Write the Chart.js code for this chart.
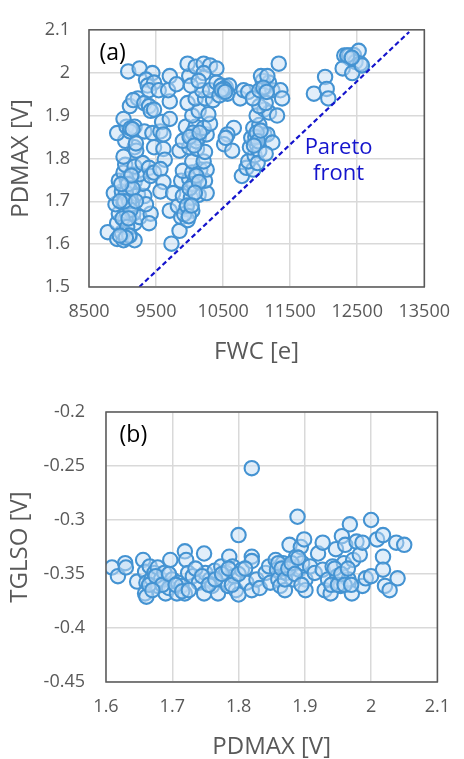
<!DOCTYPE html>
<html>
<head>
<meta charset="utf-8">
<script src="https://cdn.jsdelivr.net/npm/chart.js@4.4.0/dist/chart.umd.min.js"></script>
<style>
html, body { margin: 0; padding: 0; background: #fff; overflow: hidden; }
#chartA { position: absolute; left: 0; top: 0; }
#chartB { position: absolute; left: 0; top: 375px; }
</style>
</head>
<body>
<canvas id="chartA" width="464" height="372"></canvas>
<canvas id="chartB" width="464" height="390"></canvas>
<script>
// (a) FWC vs PDMAX
let fwc = [
    8780, 8920, 9015, 9110, 9180, 8990, 8920, 9040, 9180, 8945, 9060, 9160, 8895, 9015, 9135, 9255,
    8870, 8990, 9110, 9230, 9325, 8945, 9060, 9180, 9300, 9015, 9135, 9255, 9040, 9180, 9300, 9395,
    9420, 9395, 9350, 9420, 9470, 9015, 9180, 9205, 9040, 8920, 9060, 9180, 9110, 9015, 9110, 9230,
    9160, 9325, 9395, 9420, 9470, 9085, 9255, 9445, 9350, 9375, 9470, 9395, 9540, 9325, 9445, 9565,
    9590, 9610, 9470, 9610, 9705, 9630, 9565, 9610, 9565,
    9050, 9100, 9080, 9120, 9000, 9150, 9070, 9030, 9130, 9090, 8960, 9200, 8980, 9100, 9050, 8960,
    9120, 9150, 9200,
    9730, 9850, 9705, 9875, 9945, 10040, 9825, 9970, 9755, 9900, 10020, 10135, 10255, 9875, 9995, 10110,
    10230, 9900, 10040, 10160, 10255, 10040, 10210, 9850, 9995, 10110, 10230, 9900, 10020, 10135, 10255, 9945,
    10090, 10210, 10305, 10040, 10135, 10280, 9970, 10090, 10230, 10350, 10185, 10305, 9705, 9680, 9705, 9805,
    9995, 10020, 9970, 10090, 10210, 10305, 10400, 10210, 10135,
    10060, 10100, 10000, 10140, 10080, 10050, 10100, 10000, 10150, 10070, 9920, 9960, 9990, 10030,
    10400, 10470, 10540, 10590, 10490, 10565, 10445, 10515, 10755, 10805, 10875, 10660, 10565, 10515, 10635, 10540,
    10480, 10530,
    10780, 10850, 10950, 10875, 10970, 10900, 11000, 11040, 10920, 11040, 11115, 10950, 11040, 11160, 11235, 11015,
    11135, 11000, 11115, 11185, 11305, 11040, 11135, 10945, 11040, 11135, 11235, 11090, 11185, 11065, 11160, 11355,
    11380, 11330,
    10980, 11000, 11020, 10960, 11060, 11100, 11150,
    12021, 11854, 12045, 12069,
    12307, 12379, 12450, 12522, 12402, 12474, 12546, 12283, 12426, 12570, 12350, 12420
];
let pdmaxA = [
    1.628, 1.612, 1.609, 1.620, 1.609, 1.627, 1.649, 1.656, 1.649, 1.671, 1.675, 1.671, 1.693, 1.697, 1.693, 1.663,
    1.719, 1.723, 1.726, 1.715, 1.712, 1.748, 1.752, 1.745, 1.741, 1.767, 1.763, 1.763, 1.785, 1.781, 1.789, 1.778,
    1.671, 1.649, 1.693, 1.759, 1.767, 1.804, 1.826, 1.818, 1.841, 1.859, 1.874, 1.874, 1.863, 1.892, 1.922, 1.940,
    1.936, 1.929, 1.922, 1.911, 1.914, 2.003, 2.010, 1.999, 1.984, 1.970, 1.977, 1.959, 1.959, 1.863, 1.859, 1.863,
    1.885, 1.856, 1.826, 1.822, 1.892, 1.797, 1.775, 1.745, 1.723,
    1.720, 1.700, 1.740, 1.680, 1.660, 1.730, 1.640, 1.700, 1.760, 1.660, 1.700, 1.700, 1.740, 1.620, 1.615, 1.620,
    1.870, 1.868, 1.835,
    1.601, 1.631, 1.678, 1.663, 1.682, 1.678, 1.689, 1.656, 1.719, 1.712, 1.708, 1.715, 1.719, 1.748, 1.752, 1.756,
    1.748, 1.771, 1.767, 1.774, 1.774, 1.793, 1.793, 1.818, 1.826, 1.822, 1.815, 1.841, 1.852, 1.848, 1.856, 1.874,
    1.874, 1.871, 1.881, 1.900, 1.911, 1.903, 1.929, 1.940, 1.940, 1.936, 1.959, 1.959, 1.933, 1.959, 1.992, 1.973,
    1.992, 1.970, 2.021, 2.014, 2.021, 2.017, 2.010, 1.999, 1.981,
    1.740, 1.760, 1.730, 1.745, 1.720, 1.860, 1.840, 1.850, 1.860, 1.830, 1.670, 1.690, 1.665, 1.690,
    1.977, 1.970, 1.966, 1.970, 1.955, 1.951, 1.947, 1.962, 1.940, 1.959, 1.955, 1.871, 1.856, 1.833, 1.818, 1.848,
    1.960, 1.955,
    1.759, 1.778, 1.774, 1.793, 1.807, 1.826, 1.833, 1.818, 1.848, 1.852, 1.856, 1.871, 1.878, 1.856, 1.837, 1.789,
    1.811, 1.900, 1.914, 1.907, 1.900, 1.922, 1.929, 1.940, 1.959, 1.966, 1.959, 1.981, 1.977, 1.992, 1.992, 1.959,
    1.940, 2.021,
    1.850, 1.860, 1.840, 1.830, 1.865, 1.965, 1.955,
    1.990, 1.951, 1.962, 1.940,
    2.040, 2.040, 2.041, 2.051, 2.032, 2.025, 2.021, 2.010, 1.999, 2.017, 2.040, 2.035
];
let frontX = [9250, 13275];
let frontY = [1.5, 2.095];
let xTicksA = [8500, 9500, 10500, 11500, 12500, 13500];
let yTicksA = [1.5, 1.6, 1.7, 1.8, 1.9, 2, 2.1];

// (b) PDMAX vs TGLSO
let pdmaxB = [
    1.609, 1.618, 1.629, 1.630, 1.647, 1.656, 1.659, 1.661, 1.659, 1.661, 1.666, 1.669, 1.673, 1.678, 1.678, 1.683,
    1.690, 1.688, 1.697, 1.700, 1.695, 1.707, 1.709, 1.714, 1.719, 1.721, 1.719, 1.724, 1.731, 1.740, 1.748, 1.748,
    1.750, 1.757, 1.760, 1.764, 1.769, 1.774, 1.776, 1.781, 1.786, 1.784, 1.791, 1.793, 1.796, 1.800, 1.800, 1.805,
    1.812, 1.820, 1.820, 1.820, 1.820, 1.827, 1.832, 1.841, 1.846, 1.848, 1.856, 1.858, 1.860, 1.863, 1.867, 1.870,
    1.872, 1.877, 1.879, 1.882, 1.887, 1.889, 1.891, 1.894, 1.896, 1.899, 1.901, 1.901, 1.908, 1.915, 1.920, 1.927,
    1.927, 1.930, 1.935, 1.939, 1.942, 1.947, 1.949, 1.956, 1.954, 1.959, 1.961, 1.966, 1.968, 1.971, 1.973, 1.978,
    1.983, 1.987, 1.987, 1.992, 2.000, 2.000, 2.009, 2.018, 2.018, 2.018, 2.021, 2.028, 2.038, 2.040, 2.050,
    1.665, 1.675, 1.685, 1.670, 1.695, 1.705, 1.715, 1.725, 1.735, 1.745, 1.755, 1.765, 1.775, 1.785, 1.790, 1.800,
    1.810, 1.860, 1.865, 1.870, 1.875, 1.880, 1.885, 1.890, 1.895, 1.940, 1.945, 1.950, 1.955, 1.960, 1.965, 1.970
];
let tglso = [
    -0.344, -0.352, -0.340, -0.344, -0.357, -0.337, -0.348, -0.358, -0.368, -0.371, -0.343, -0.354, -0.349, -0.344, -0.361, -0.355,
    -0.368, -0.349, -0.337, -0.355, -0.363, -0.368, -0.358, -0.361, -0.329, -0.337, -0.368, -0.349, -0.352, -0.358, -0.331, -0.368,
    -0.349, -0.355, -0.361, -0.347, -0.368, -0.343, -0.355, -0.349, -0.334, -0.361, -0.343, -0.352, -0.365, -0.369, -0.314, -0.346,
    -0.358, -0.252, -0.334, -0.338, -0.365, -0.355, -0.363, -0.349, -0.343, -0.358, -0.337, -0.346, -0.355, -0.361, -0.340, -0.365,
    -0.349, -0.323, -0.343, -0.355, -0.334, -0.297, -0.346, -0.325, -0.340, -0.318, -0.355, -0.365, -0.343, -0.349, -0.331, -0.321,
    -0.346, -0.365, -0.355, -0.368, -0.343, -0.327, -0.352, -0.315, -0.361, -0.340, -0.323, -0.355, -0.304, -0.368, -0.337, -0.320,
    -0.332, -0.321, -0.361, -0.354, -0.300, -0.352, -0.318, -0.314, -0.334, -0.346, -0.361, -0.365, -0.321, -0.354, -0.323,
    -0.360, -0.352, -0.360, -0.365, -0.350, -0.360, -0.366, -0.365, -0.345, -0.352, -0.360, -0.355, -0.350, -0.345, -0.360, -0.350,
    -0.345, -0.340, -0.345, -0.355, -0.345, -0.340, -0.350, -0.335, -0.360, -0.360, -0.345, -0.360, -0.350, -0.360, -0.345, -0.360
];
let xTicksB = [1.6, 1.7, 1.8, 1.9, 2, 2.1];
let yTicksB = [-0.45, -0.4, -0.35, -0.3, -0.25, -0.2];

const GRAY = '#595959';
const FONT = "'Open Sans', 'Noto Sans', sans-serif";

function toPoints(xs, ys) {
    return xs.map((x, i) => ({ x: x, y: ys[i] }));
}

// frame + free text labels, placed through the scales
const notesPlugin = {
    id: 'notes',
    afterDraw(chart, args, opts) {
        let ctx = chart.ctx;
        let xs = chart.scales.x, ys = chart.scales.y;
        let a = chart.chartArea;
        ctx.save();
        ctx.strokeStyle = GRAY;
        ctx.lineWidth = 1.5;
        ctx.strokeRect(a.left, a.top, a.right - a.left, a.bottom - a.top);
        (opts.items || []).forEach(n => {
            ctx.font = n.font;
            ctx.fillStyle = n.color;
            ctx.textAlign = n.align;
            ctx.textBaseline = 'middle';
            ctx.fillText(n.text, xs.getPixelForValue(n.x), ys.getPixelForValue(n.y));
        });
        ctx.restore();
    }
};

function makeScale(o) {
    return {
        type: 'linear',
        min: o.min,
        max: o.max,
        afterBuildTicks: s => { s.ticks = o.ticks.map(v => ({ value: v })); },
        afterFit: s => {
            if (o.width) s.width = o.width;
            if (o.height) s.height = o.height;
        },
        grid: { color: '#d9d9d9', lineWidth: 1.5, drawTicks: false },
        border: { display: false },
        ticks: {
            padding: o.tickPad,
            color: GRAY,
            font: { family: FONT, size: 18 },
            maxRotation: 0,
            autoSkip: false,
            callback: v => String(v)
        },
        title: {
            display: true,
            text: o.title,
            color: GRAY,
            font: { family: FONT, size: 24, lineHeight: 1.2 },
            padding: o.titlePad
        }
    };
}

const pointStyle = {
    pointRadius: 7.2,
    pointBorderWidth: 2.1,
    borderColor: 'rgb(68,147,210)',
    backgroundColor: 'rgba(196,221,246,0.5)',
    pointHoverRadius: 7.2
};

new Chart(document.getElementById('chartA'), {
    type: 'scatter',
    data: {
        datasets: [
            {
                type: 'line',
                label: 'Pareto front',
                data: toPoints(frontX, frontY),
                borderColor: '#1414cc',
                borderWidth: 2.2,
                borderDash: [5, 3],
                pointRadius: 0,
                fill: false,
                order: 0
            },
            Object.assign({ label: 'designs', data: toPoints(fwc, pdmaxA), order: 1 }, pointStyle)
        ]
    },
    options: {
        responsive: false,
        animation: false,
        layout: { padding: { top: 16, right: 26, left: 0, bottom: 0 } },
        scales: {
            x: makeScale({ min: 8500, max: 13500, ticks: xTicksA, title: 'FWC [e]', height: 85, tickPad: 14, titlePad: { top: 0, bottom: 5 } }),
            y: makeScale({ min: 1.5, max: 2.1, ticks: yTicksA, title: 'PDMAX [V]', width: 89, tickPad: 19, titlePad: { top: 7, bottom: 0 } })
        },
        plugins: {
            legend: { display: false },
            tooltip: { enabled: false },
            notes: {
                items: [
                    { text: '(a)', x: 8655, y: 2.045, font: '23px ' + FONT, color: '#000', align: 'left' },
                    { text: 'Pareto', x: 12222, y: 1.826, font: '22px ' + FONT, color: '#1414cc', align: 'center' },
                    { text: 'front', x: 12222, y: 1.764, font: '22px ' + FONT, color: '#1414cc', align: 'center' }
                ]
            }
        }
    },
    plugins: [notesPlugin]
});

new Chart(document.getElementById('chartB'), {
    type: 'scatter',
    data: {
        datasets: [
            Object.assign({ label: 'designs', data: toPoints(pdmaxB, tglso) }, pointStyle)
        ]
    },
    options: {
        responsive: false,
        animation: false,
        layout: { padding: { top: 37, right: 11, left: 0, bottom: 0 } },
        scales: {
            x: makeScale({ min: 1.6, max: 2.1, ticks: xTicksB, title: 'PDMAX [V]', height: 83, tickPad: 14, titlePad: { top: 0, bottom: 3 } }),
            y: makeScale({ min: -0.45, max: -0.2, ticks: yTicksB, title: 'TGLSO [V]', width: 106, tickPad: 21, titlePad: { top: 6, bottom: 0 } })
        },
        plugins: {
            legend: { display: false },
            tooltip: { enabled: false },
            notes: {
                items: [
                    { text: '(b)', x: 1.6205, y: -0.222, font: '23px ' + FONT, color: '#000', align: 'left' }
                ]
            }
        }
    },
    plugins: [notesPlugin]
});
</script>
</body>
</html>
